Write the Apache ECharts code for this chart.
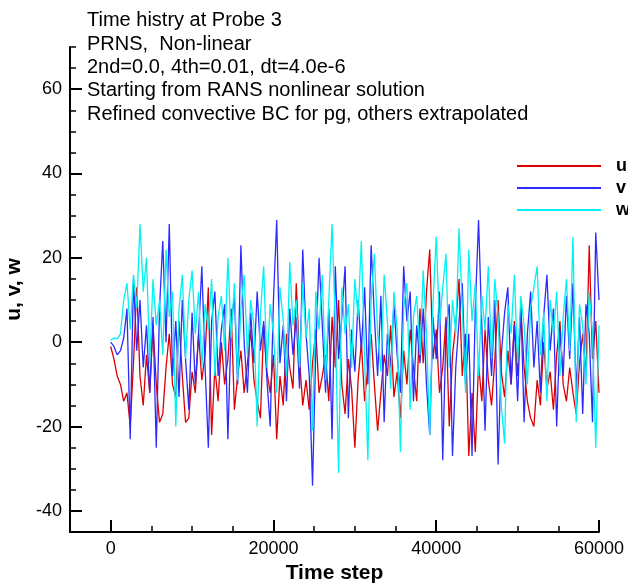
<!DOCTYPE html>
<html><head><meta charset="utf-8">
<script src="https://cdn.jsdelivr.net/npm/echarts@6/dist/echarts.min.js"></script>
<style>html,body{margin:0;padding:0;background:#fff}#c{width:628px;height:584px}</style>
</head><body><div id="c"></div>
<script>
// sampling grid of the time history (time steps between stored samples)
const stepSpacing = 400;

const uValues = [
  -1, -4, -8, -10, -14, -12, -20, -5, 13, -8,
  -15, -3, -12, 4, -10, -19, -17, -6, 2, -10,
  -13, 5, -8, -19, -18, -7, -12, 2, -9, -3,
  13, -22, -6, -14, 0, -10, -4, 8, -16, -8,
  -2, -12, -5, 3, -9, -14, -18, 4, -7, -12,
  -3, -23, -8, -15, 2, -6, -11, 14, -4, -15,
  -9, -16, -5, 3, -12, -8, -3, -14, 6, -6,
  10, -10, -17, -4, -11, -25, -9, 0, -14, -6,
  2, -10, -21, -12, -3, -8, 4, -13, -7, -18,
  -2, -10, 3, -6, -14, 8, -5, 12, 22, -4,
  3, -12, -6, 6, -20, -3, 4, 15, -8, 2,
  -27, -12, -26, -5, -14, 3, -9, -15, -4, 10,
  -7, -13, -2, -10, 5, -8, 8, -6, -14, -18,
  -20, -9, -15, 0, -11, -7, -16, -3, 5, -10,
  -14, -6, -12, -17, -5, 2, -8, 23, -4, 5,
  -12
];
const vValues = [
  0, -1, -3, -2, 1, 8, -23, 15, -2, 10,
  -6, 4, -12, 6, -25, 8, 24, 0, 28, -8,
  5, -13, 10, -4, -16, 7, -10, 2, 18, -6,
  -25, 5, 12, -8, 3, 9, -23, 4, 11, -10,
  23, 0, -12, 7, -5, 12, -2, 5, -9, -20,
  10, 29, -5, 4, -14, 8, -3, 6, -11, 22,
  2, -8, -34, -2, 20, 4, -12, 8, -23, 18,
  -4, 6, 18, -18, 3, -7, 10, -2, 13, -10,
  23, 6, -8, 11, -19, 2, -6, 9, -3, -12,
  18, 5, 12, -14, 4, -5, 8, -10, -22, 6,
  -4, 12, -28, 3, 9, -27, -6, 5, 14, -10,
  2, -27, 8, 29, 4, -21, 6, -8, 10, -29,
  -3, 7, 13, -10, 4, -14, 9, -19, 2, 12,
  -6, 5, -12, 6, 16, -2, 8, -20, 3, -8,
  11, -4, 14, -12, 6, -17, 9, 2, -19, 26,
  10
];
const wValues = [
  0.5, 1, 0.8, 2, 10, 14, 3, 16, 8, 28,
  12, 20, -5, 15, 4, 10, -3, 22, 6, 12,
  -20, 8, 16, -4, 10, 17, 2, 12, -6, 9,
  3, 15, -8, 6, 11, -2, 20, 1, 14, -9,
  8, 16, -3, 10, 4, -20, 7, 18, -6, 9,
  2, -12, 13, 5, -8, 19, 4, 10, -6, 14,
  1, 8, -21, 12, 3, 16, -9, 10, 28, 4,
  -31, 13, 2, 9, -6, 15, 6, 24, -4, -28,
  10, 21, 2, -7, 16, 5, -11, 12, 3, -26,
  8, 14, -16, 6, 11, -3, 17, 2, -22, 9,
  25, 4, 13, 21, -6, 10, 2, 27, 8, -12,
  22, 5, 14, -8, 11, 3, 18, -4, 15, 6,
  -15, -24, 9, 2, 16, -5, 11, 4, -10, 8,
  13, 18, -3, 7, -14, 10, 2, 12, -8, 6,
  15, -2, 25, -19, 9, 4, -10, 12, 2, -25,
  4
];

const seriesNames = ['u', 'v', 'w'];
const xMajorTicks = [0, 20000, 40000, 60000];
const yMajorTicks = [-40, -20, 0, 20, 40, 60];
const titleLines = [
  'Time histry at Probe 3',
  'PRNS,  Non-linear',
  '2nd=0.0, 4th=0.01, dt=4.0e-6',
  'Starting from RANS nonlinear solution',
  'Refined convective BC for pg, others extrapolated'
];
const xAxisTitle = 'Time step';
const yAxisTitle = 'u, v, w';

const colors = ['#dd0000', '#2b2bff', '#00f2f2'];
const FONT = 'Liberation Sans, Arial, sans-serif';

const toPairs = arr => arr.map((v, i) => [i * stepSpacing, v]);
const allValues = [uValues, vValues, wValues];

const chart = echarts.init(document.getElementById('c'), null, {renderer: 'canvas'});
const axisCommonX = {type: 'value', min: -5000, max: 60000, splitLine: {show: false}};
const axisCommonY = {type: 'value', min: -45, max: 70, splitLine: {show: false}};

chart.setOption({
  animation: false,
  textStyle: {fontFamily: FONT, color: '#000'},
  title: {
    text: titleLines.join('\n'),
    left: 82, top: 4,
    textStyle: {fontFamily: FONT, fontSize: 20, fontWeight: 'normal', lineHeight: 23.4, color: '#000'}
  },
  legend: {
    data: seriesNames,
    orient: 'vertical',
    left: 512, top: 152,
    icon: 'rect',
    itemWidth: 84, itemHeight: 2, itemGap: 4,
    textStyle: {fontFamily: FONT, fontSize: 18, fontWeight: 'bold', color: '#000', padding: [0, 0, 0, 10]}
  },
  grid: {left: 70, right: 29, top: 47, bottom: 52, containLabel: false, outerBoundsMode: 'none'},
  xAxis: [
    Object.assign({}, axisCommonX, {
      interval: 5000,
      axisLine: {show: true, onZero: false, lineStyle: {color: '#000', width: 2}},
      axisTick: {show: true, inside: true, length: 6, lineStyle: {color: '#000', width: 1.5}},
      axisLabel: {
        formatter: v => xMajorTicks.includes(v) ? String(v) : '',
        fontSize: 18, color: '#000', margin: 8, fontFamily: FONT
      },
      name: xAxisTitle, nameLocation: 'middle', nameGap: 30,
      nameTextStyle: {fontFamily: FONT, fontSize: 21, fontWeight: 'bold', color: '#000'}
    }),
    Object.assign({}, axisCommonX, {
      position: 'bottom',
      axisLine: {show: false, onZero: false},
      axisTick: {show: true, inside: true, length: 12, customValues: xMajorTicks, lineStyle: {color: '#000', width: 2}},
      axisLabel: {show: false, customValues: xMajorTicks}
    })
  ],
  yAxis: [
    Object.assign({}, axisCommonY, {
      interval: 5,
      axisLine: {show: true, onZero: false, lineStyle: {color: '#000', width: 2}},
      axisTick: {show: true, inside: true, length: 6, lineStyle: {color: '#000', width: 1.5}},
      axisLabel: {
        formatter: v => yMajorTicks.includes(v) ? String(v) : '',
        fontSize: 18, color: '#000', margin: 8, fontFamily: FONT
      },
      name: yAxisTitle, nameLocation: 'middle', nameGap: 40, nameRotate: 90,
      nameTextStyle: {fontFamily: FONT, fontSize: 21, fontWeight: 'bold', color: '#000'}
    }),
    Object.assign({}, axisCommonY, {
      position: 'left',
      axisLine: {show: false, onZero: false},
      axisTick: {show: true, inside: true, length: 12, customValues: yMajorTicks, lineStyle: {color: '#000', width: 2}},
      axisLabel: {show: false, customValues: yMajorTicks}
    })
  ],
  series: seriesNames.map((name, k) => ({
    name: name,
    type: 'line',
    xAxisIndex: 0, yAxisIndex: 0,
    data: toPairs(allValues[k]),
    symbol: 'none',
    sampling: null,
    lineStyle: {color: colors[k], width: 1.3},
    itemStyle: {color: colors[k]},
    z: 2 + k
  }))
});
</script>
</body></html>
